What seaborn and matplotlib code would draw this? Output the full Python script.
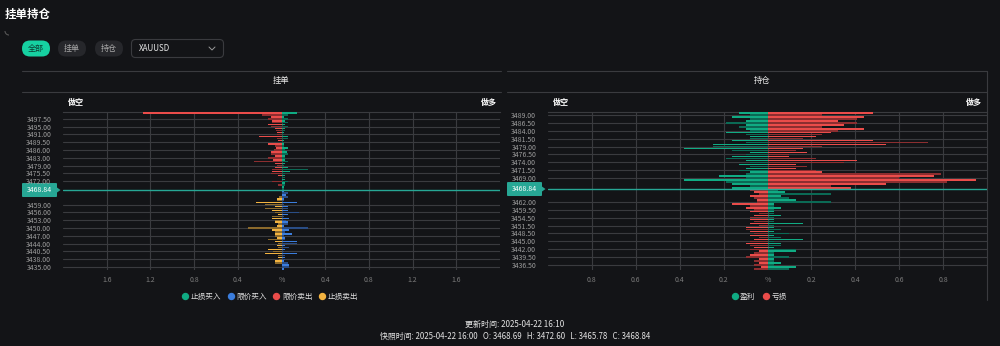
import numpy as np
import pandas as pd
import matplotlib
matplotlib.use("Agg")
import matplotlib.pyplot as plt
import seaborn as sns
from matplotlib.patches import FancyBboxPatch, Polygon, Arc
from matplotlib.lines import Line2D

# ---------------- data ----------------
# 挂单 (order book), rows above current price (top -> bottom)
limit_sell = [1.27, 0.18, 0.10, 0.12, 0.09, 0.09, 0.12, 0.10, 0.06, 0.05,
              0.04, 0.04, 0.21, 0.04, 0.03, 0.00, 0.12, 0.06, 0.05, 0.07,
              0.10, 0.10, 0.06, 0.12, 0.08, 0.25, 0.06, 0.04, 0.06, 0.09,
              0.09, 0.10, 0.03, 0.00, 0.00, 0.09, 0.00, 0.03, 0.00, 0.00]
stop_buy = [0.14, 0.06, 0.02, 0.06, 0.03, 0.06, 0.03, 0.06, 0.03, 0.03,
            0.02, 0.02, 0.06, 0.06, 0.02, 0.02, 0.02, 0.02, 0.06, 0.03,
            0.05, 0.06, 0.03, 0.03, 0.03, 0.06, 0.03, 0.02, 0.06, 0.245,
            0.08, 0.03, 0.03, 0.03, 0.03, 0.06, 0.03, 0.03, 0.02, 0.02]
# rows below current price
stop_sell = [0.00, 0.00, 0.00, 0.02, 0.04, 0.04, 0.23, 0.15, 0.06, 0.15,
             0.09, 0.06, 0.03, 0.09, 0.09, 0.06, 0.06, 0.03, 0.04, 0.31,
             0.09, 0.06, 0.06, 0.06, 0.04, 0.12, 0.06, 0.03, 0.04, 0.03,
             0.12, 0.08, 0.15, 0.03, 0.03, 0.02, 0.06, 0.06, 0.00, 0.00, 0.00]
limit_buy = [0.02, 0.06, 0.04, 0.06, 0.02, 0.02, 0.14, 0.02, 0.06, 0.06,
             0.06, 0.16, 0.06, 0.02, 0.07, 0.04, 0.06, 0.06, 0.02, 0.245,
             0.07, 0.03, 0.10, 0.02, 0.03, 0.03, 0.14, 0.14, 0.03, 0.07,
             0.03, 0.02, 0.14, 0.03, 0.03, 0.03, 0.02, 0.06, 0.07, 0.07, 0.02]
order_ticks_up = ["3497.50", "3495.00", "3491.00", "3489.50", "3486.00",
                  "3483.00", "3479.00", "3475.50", "3472.00"]
order_ticks_dn = ["3459.00", "3456.00", "3453.00", "3450.00", "3447.00",
                  "3444.00", "3440.50", "3438.00", "3435.00"]

# 持仓 (positions)
pos_short_profit = [0.13, 0.08, 0.16, 0.08, 0.10, 0.19, 0.10, 0.13, 0.10, 0.08,
                    0.19, 0.10, 0.08, 0.08, 0.16, 0.10, 0.25, 0.25, 0.38, 0.16,
                    0.08, 0.10, 0.16, 0.19, 0.10, 0.08, 0.13, 0.08, 0.10, 0.13,
                    0.08, 0.10, 0.22, 0.10, 0.38, 0.19, 0.16, 0.08, 0.16]
pos_long_loss = [0.48, 0.25, 0.44, 0.41, 0.32, 0.41, 0.35, 0.25, 0.44, 0.32,
                 0.29, 0.25, 0.22, 0.16, 0.48, 0.73, 0.54, 0.25, 0.16, 0.13,
                 0.18, 0.10, 0.10, 0.22, 0.41, 0.35, 0.13, 0.18, 0.13, 0.22,
                 0.25, 0.79, 0.76, 0.60, 0.95, 0.82, 0.54, 0.29, 0.38]
pos_short_loss = [0.08, 0.06, 0.04, 0.08, 0.06, 0.05, 0.05, 0.16, 0.08, 0.10,
                  0.06, 0.08, 0.04, 0.06, 0.08, 0.08, 0.06, 0.08, 0.04, 0.10,
                  0.10, 0.08, 0.06, 0.08, 0.04, 0.06, 0.08, 0.10, 0.08, 0.06,
                  0.08, 0.04, 0.06, 0.08, 0.10, 0.04, 0.06, 0.04, 0.06, 0.03, 0.06]
pos_long_profit = [0.05, 0.08, 0.29, 0.06, 0.10, 0.13, 0.29, 0.03, 0.03, 0.06,
                   0.03, 0.03, 0.03, 0.06, 0.03, 0.03, 0.03, 0.16, 0.03, 0.03,
                   0.06, 0.03, 0.10, 0.03, 0.06, 0.16, 0.03, 0.06, 0.06, 0.03,
                   0.13, 0.13, 0.03, 0.03, 0.10, 0.03, 0.03, 0.06, 0.03, 0.13, 0.10]
pos_ticks_up = ["3489.00", "3486.50", "3484.00", "3481.50", "3479.00",
                "3476.50", "3474.00", "3471.50", "3469.00"]
pos_ticks_dn = ["3462.00", "3459.50", "3454.50", "3451.50", "3448.50",
                "3445.00", "3442.00", "3439.50", "3436.50"]

current_price = "3468.84"
order_legend = ["止损买入", "限价买入", "限价卖出", "止损卖出"]
pos_legend = ["盈利", "亏损"]
x_order_ticks = [-1.6, -1.2, -0.8, -0.4, 0.0, 0.4, 0.8, 1.2, 1.6]
x_pos_ticks = [-0.8, -0.6, -0.4, -0.2, 0.0, 0.2, 0.4, 0.6, 0.8]
footer1 = "更新时间: 2025-04-22 16:10"
footer2 = "快照时间: 2025-04-22 16:00   O: 3468.69   H: 3472.60   L: 3465.78   C: 3468.84"

# ---------------- style ----------------
BG = "#131417"
GRID = "#3a3b3f"
TEAL = "#27a795"
GREEN, GREEN_D = "#10ab83", "#0b6a55"
RED, RED_D = "#ea4c4a", "#8c2e30"
BLUE, BLUE_D = "#3b7ddd", "#2a4d85"
YELLOW, YELLOW_D = "#f3b340", "#8c6a2c"
W, H = 1000, 346

sns.set_theme(style="dark")
plt.rcParams["font.family"] = ["Noto Sans CJK SC", "DejaVu Sans"]
plt.rcParams["patch.edgecolor"] = "none"
plt.rcParams["patch.linewidth"] = 0

fig = plt.figure(figsize=(W / 100, H / 100), dpi=100, facecolor=BG)
ov = fig.add_axes([0, 0, 1, 1], zorder=0)
ov.set_xlim(0, W)
ov.set_ylim(H, 0)
ov.axis("off")
ov.set_facecolor(BG)


def fax(x0, y0, x1, y1):
    return fig.add_axes([x0 / W, 1 - y1 / H, (x1 - x0) / W, (y1 - y0) / H], zorder=2)


def side_bars(ax, vals, start, sign, bright, dark):
    v = np.asarray(vals, float)
    rows = start + np.arange(len(v))
    df = pd.DataFrame({"row": rows, "val": sign * v,
                       "shade": np.where(rows % 2 == 0, "a", "b")})
    df = df[df["val"] != 0]
    sns.barplot(data=df, x="val", y="row", hue="shade", hue_order=["a", "b"],
                palette={"a": bright, "b": dark}, orient="h", native_scale=True,
                dodge=False, width=0.75, legend=False, errorbar=None,
                saturation=1, edgecolor="none", linewidth=0, ax=ax)


def style_panel(ax, nrows, xlim, xticks, ytick_rows, ytick_labels, cur_row):
    ax.set_facecolor("none")
    ax.set_ylim(nrows - 0.5, -0.5)
    ax.set_xlim(*xlim)
    ax.set_xticks(xticks, [("%" if t == 0 else f"{abs(t):.1f}") for t in xticks])
    ax.set_yticks(ytick_rows, ytick_labels)
    ax.set_xlabel("")
    ax.set_ylabel("")
    ax.grid(True, color=GRID, lw=0.8)
    ax.set_axisbelow(True)
    for s in ["left", "right", "bottom"]:
        ax.spines[s].set_visible(False)
    ax.spines["top"].set_color(GRID)
    ax.spines["top"].set_linewidth(0.8)
    ax.spines["top"].set_zorder(0.5)
    ax.tick_params(axis="y", length=0, pad=8.5, labelsize=5.0, labelcolor="#9c9c9c")
    ax.tick_params(axis="x", length=0, pad=4, labelsize=5.0, labelcolor="#7c7c7c")
    ax.axhline(cur_row, color=TEAL, lw=1.0, zorder=5)


# ---- left panel: 挂单 ----
axL = fax(63, 112, 500, 270)
nL_up, nL_dn = len(limit_sell), len(stop_sell)
side_bars(axL, limit_sell, 0, -1, RED, RED_D)
side_bars(axL, stop_buy, 0, 1, GREEN, GREEN_D)
side_bars(axL, stop_sell, nL_up, -1, YELLOW, YELLOW_D)
side_bars(axL, limit_buy, nL_up, 1, BLUE, BLUE_D)
rowsL = [3 + 4 * i for i in range(len(order_ticks_up))] + \
        [nL_up + 7 + 4 * i for i in range(len(order_ticks_dn))]
style_panel(axL, nL_up + nL_dn, (-2.0, 2.0), x_order_ticks, rowsL,
            order_ticks_up + order_ticks_dn, nL_up - 0.5)

# ---- right panel: 持仓 ----
axR = fax(548, 112, 987, 270)
nR_up, nR_dn = len(pos_short_profit), len(pos_short_loss)
side_bars(axR, pos_short_profit, 0, -1, GREEN, GREEN_D)
side_bars(axR, pos_long_loss, 0, 1, RED, RED_D)
side_bars(axR, pos_short_loss, nR_up, -1, RED, RED_D)
side_bars(axR, pos_long_profit, nR_up, 1, GREEN, GREEN_D)
rowsR = [1 + 4 * i for i in range(len(pos_ticks_up))] + \
        [nR_up + 6 + 4 * i for i in range(len(pos_ticks_dn))]
style_panel(axR, nR_up + nR_dn, (-1.0, 1.0), x_pos_ticks, rowsR,
            pos_ticks_up + pos_ticks_dn, nR_up - 0.5)

# ---------------- chrome ----------------
ov.text(5, 14, "挂单持仓", color="white", fontsize=8.3, fontweight="bold", va="center")
ov.add_patch(Arc((9, 31), 8, 8, theta1=90, theta2=180, color="#555555", lw=0.8))
ov.add_patch(FancyBboxPatch((22, 40.5), 28, 16, boxstyle="round,pad=0,rounding_size=8",
                            fc="#16d1a1", ec="none"))
ov.text(36, 48.5, "全部", color="#0b3b30", fontsize=5.8, ha="center", va="center")
for x0, lab in [(58, "挂单"), (95, "持仓")]:
    ov.add_patch(FancyBboxPatch((x0, 40.5), 28, 16, boxstyle="round,pad=0,rounding_size=8",
                                fc="#26272b", ec="none"))
    ov.text(x0 + 14, 48.5, lab, color="#a8a8a8", fontsize=5.8, ha="center", va="center")
ov.add_patch(FancyBboxPatch((131.5, 39.5), 92, 18, boxstyle="round,pad=0,rounding_size=4",
                            fc=BG, ec="#3a3b3f", lw=0.8))
ov.text(139, 48.5, "XAUUSD", color="#e6e6e6", fontsize=5.8, va="center")
ov.plot([209, 212, 215], [47, 50, 47], color="#9a9a9a", lw=0.7)

for x0, x1 in [(22, 501), (507, 987)]:
    ov.plot([x0, x1], [71, 71], color=GRID, lw=0.8)
    ov.plot([x0, x1], [92, 92], color=GRID, lw=0.8)
ov.plot([987, 987], [71, 300], color=GRID, lw=0.8)

ov.text(281, 81, "挂单", color="#eaeaea", fontsize=6.0, ha="center", va="center")
ov.text(762, 81, "持仓", color="#eaeaea", fontsize=6.0, ha="center", va="center")
for xl, xr in [(68, 497), (553, 982)]:
    ov.text(xl, 102, "做空", color="white", fontsize=5.8, fontweight="bold", va="center")
    ov.text(xr, 102, "做多", color="white", fontsize=5.8, fontweight="bold", va="center", ha="right")

# current-price tags, aligned to each panel's current-price row
fig.canvas.draw()
for ax, cur_row, bx in [(axL, nL_up - 0.5, 22), (axR, nR_up - 0.5, 507)]:
    yp = H - ax.transData.transform((0, cur_row))[1]
    ov.add_patch(FancyBboxPatch((bx, yp - 7), 35, 14, boxstyle="round,pad=0,rounding_size=1",
                                fc=TEAL, ec="none"))
    ov.add_patch(Polygon([[bx + 35, yp - 2.5], [bx + 38.5, yp], [bx + 35, yp + 2.5]],
                         closed=True, fc=TEAL, ec="none"))
    ov.text(bx + 17.5, yp, current_price, color="white", fontsize=5.0, ha="center", va="center")

# legends
h1 = [Line2D([], [], marker="o", ls="", ms=4.3, color=c) for c in [GREEN, BLUE, RED, YELLOW]]
fig.legend(h1, order_legend, loc="center", bbox_to_anchor=(270 / W, 1 - 297 / H),
           ncol=4, frameon=False, fontsize=5.5, handlelength=0.8, handletextpad=0.3,
           columnspacing=0.9, labelcolor="#dedede")
h2 = [Line2D([], [], marker="o", ls="", ms=4.3, color=c) for c in [GREEN, RED]]
fig.legend(h2, pos_legend, loc="center", bbox_to_anchor=(759 / W, 1 - 297 / H),
           ncol=2, frameon=False, fontsize=5.5, handlelength=0.8, handletextpad=0.3,
           columnspacing=1.0, labelcolor="#dedede")

ov.text(515, 324, footer1, color="#e4e4e4", fontsize=5.8, ha="center", va="center")
ov.text(515, 336, footer2, color="#e4e4e4", fontsize=5.7, ha="center", va="center")

fig.savefig("out.png", dpi=100, facecolor=BG)
